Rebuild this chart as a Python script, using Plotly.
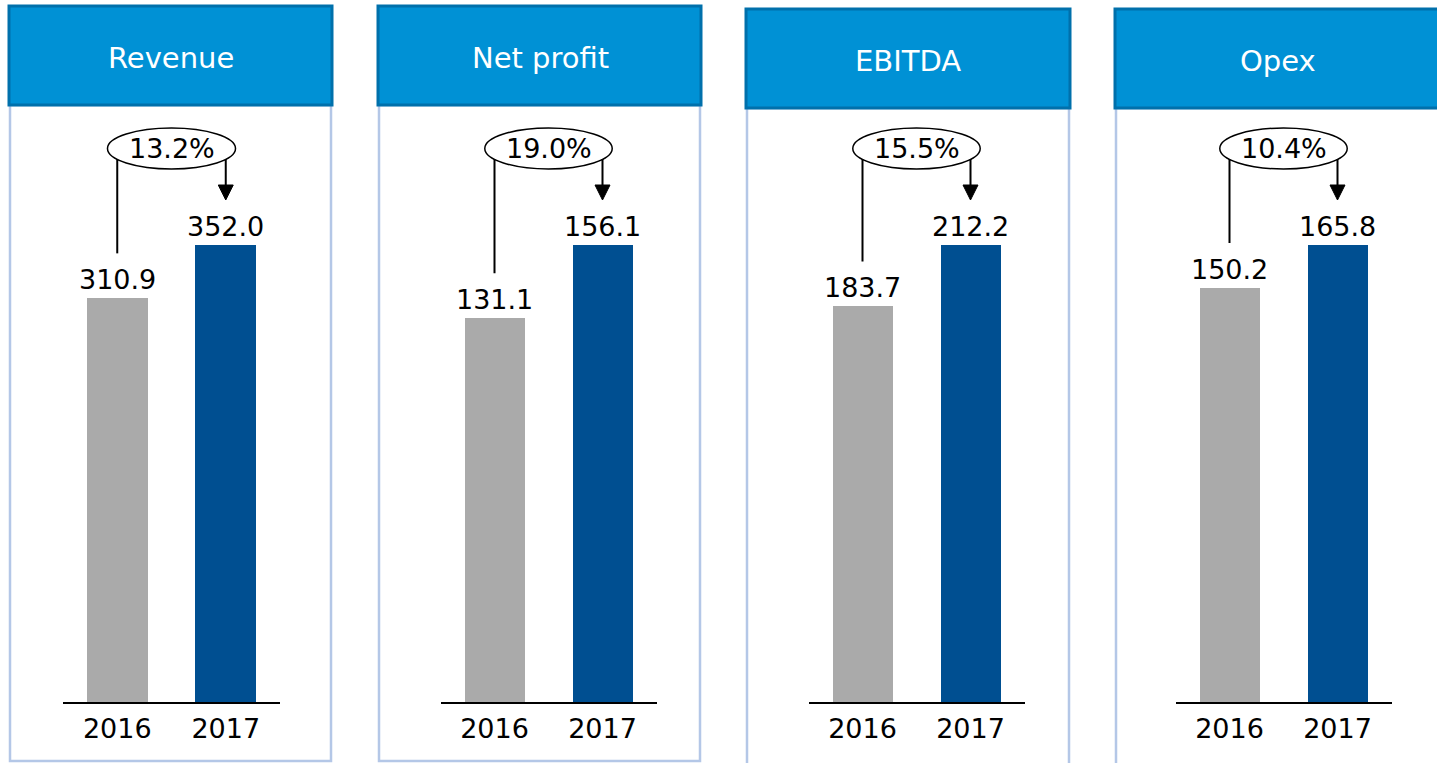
import plotly.graph_objects as go

# ---- data ----
metrics = ["Revenue", "Net profit", "EBITDA", "Opex"]
years = ["2016", "2017"]
values_2016 = [310.9, 131.1, 183.7, 150.2]
values_2017 = [352.0, 156.1, 212.2, 165.8]
growth_labels = ["13.2%", "19.0%", "15.5%", "10.4%"]

# ---- styling / layout constants ----
W, H = 1437, 763
FONT = "DejaVu Sans"
GRAY = "#AAAAAA"
BLUE = "#004F91"
HEAD_FILL = "#0091D5"
HEAD_LINE = "#0070AB"
PANEL_LINE = "#B4C7E7"

axis_px = [(63, 280), (440.5, 656.5), (808.5, 1024.5), (1175.5, 1391.5)]
header_px = [(9, 332, 6, 105), (378, 701, 6, 105), (746, 1070, 9, 108), (1115, 1445, 9, 108)]
header_text_cx = [171, 540, 908, 1278]
panel_bottom = [761, 761, 775, 775]
BASE_PY = 702        # pixel row of the zero line
BAR_TOP_PY = 245     # pixel row of the tallest bar in each panel
PLOT_H = BASE_PY - BAR_TOP_PY


def px_x(p):
    return p / W


def px_y(p):
    return 1 - p / H


fig = go.Figure()
shapes = []
annotations = []
layout_axes = {}

for i, name in enumerate(metrics):
    n = "" if i == 0 else str(i + 1)
    xa, ya = "x" + n, "y" + n
    v16, v17 = values_2016[i], values_2017[i]
    u = v17 / PLOT_H  # data units per pixel in this panel

    fig.add_trace(go.Bar(
        x=years, y=[v16, v17], xaxis=xa, yaxis=ya,
        marker=dict(color=[GRAY, BLUE], line=dict(width=0)),
        width=0.56, showlegend=False, hoverinfo="x+y",
    ))

    layout_axes["xaxis" + n] = dict(
        domain=[px_x(axis_px[i][0]), px_x(axis_px[i][1])],
        type="category", range=[-0.5, 1.5], anchor=ya,
        showline=True, linecolor="black", linewidth=2,
        showgrid=False, zeroline=False, ticks="", ticklabelstandoff=2,
        tickfont=dict(family=FONT, size=27, color="black"),
        fixedrange=True,
    )
    layout_axes["yaxis" + n] = dict(
        domain=[px_y(BASE_PY), 1], range=[0, v17 * BASE_PY / PLOT_H],
        anchor=xa, visible=False, fixedrange=True,
    )

    # panel frame and header
    hx0, hx1, hy0, hy1 = header_px[i]
    shapes.append(dict(type="rect", xref="paper", yref="paper", layer="below",
                       x0=px_x(hx0 + 1), x1=px_x(hx1 - 1), y0=px_y(panel_bottom[i]), y1=px_y(hy1),
                       line=dict(color=PANEL_LINE, width=2.5), fillcolor="white"))
    shapes.append(dict(type="rect", xref="paper", yref="paper",
                       x0=px_x(hx0), x1=px_x(hx1), y0=px_y(hy1), y1=px_y(hy0),
                       line=dict(color=HEAD_LINE, width=3), fillcolor=HEAD_FILL))
    annotations.append(dict(xref="paper", yref="paper", x=px_x(header_text_cx[i]),
                            y=px_y((hy0 + hy1) / 2 + 2), text=name, showarrow=False,
                            font=dict(family=FONT, size=29, color="white"),
                            xanchor="center", yanchor="middle"))

    # value labels
    for j, v in enumerate([v16, v17]):
        annotations.append(dict(xref=xa, yref=ya, x=j, y=v, text=f"{v:.1f}",
                                showarrow=False, yanchor="bottom", yshift=1,
                                font=dict(family=FONT, size=27, color="black")))

    # growth ellipse
    top = v17
    shapes.append(dict(type="circle", xref=xa, yref=ya, x0=-0.09, x1=1.09,
                       y0=top + 76 * u, y1=top + 117 * u,
                       line=dict(color="black", width=1.5), fillcolor="white"))
    annotations.append(dict(xref=xa, yref=ya, x=0.5, y=top + 96.5 * u, text=growth_labels[i],
                            showarrow=False, xanchor="center", yanchor="middle",
                            font=dict(family=FONT, size=27, color="black")))
    # connector from 2016 up to ellipse
    shapes.append(dict(type="line", xref=xa, yref=ya, x0=0, x1=0,
                       y0=v16 + 45 * u, y1=top + 86 * u,
                       line=dict(color="black", width=2)))
    # arrow down to 2017
    shapes.append(dict(type="line", xref=xa, yref=ya, x0=1, x1=1,
                       y0=v17 + 58 * u, y1=top + 86 * u,
                       line=dict(color="black", width=2)))
    shapes.append(dict(type="path", xref=xa, yref=ya, xsizemode="pixel", ysizemode="pixel",
                       xanchor=1, yanchor=v17,
                       path="M -7.5 60 L 7.5 60 L 0 45 Z",
                       line=dict(color="black", width=1), fillcolor="black"))

fig.update_layout(
    width=W, height=H, margin=dict(l=0, r=0, t=0, b=0),
    paper_bgcolor="white", plot_bgcolor="rgba(0,0,0,0)",
    shapes=shapes, annotations=annotations, bargap=0,
    font=dict(family=FONT), **layout_axes,
)

fig.write_html("out.html", config={"displayModeBar": False},
               post_script="document.body.style.margin='0';document.body.style.overflow='hidden';")
